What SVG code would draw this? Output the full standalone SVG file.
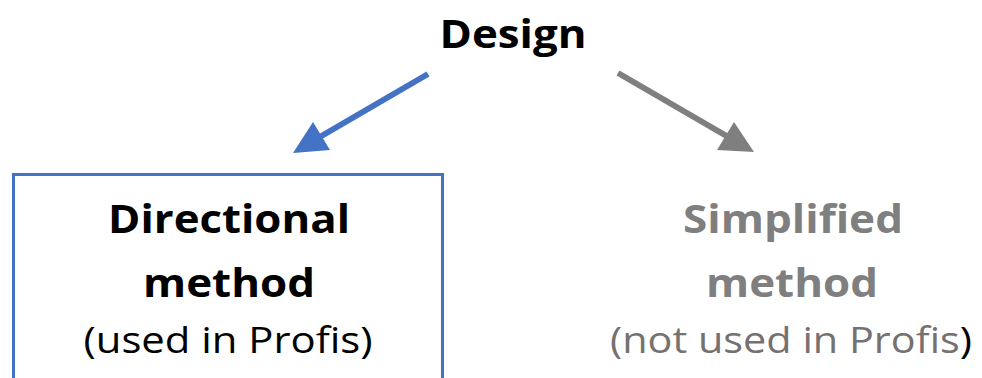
<svg xmlns="http://www.w3.org/2000/svg" width="982" height="378" viewBox="0 0 982 378">
<style>
text{font-family:"Open Sans","Noto Sans",sans-serif;text-anchor:middle}
.b{font-weight:bold;font-size:40px}
.r{font-size:37px}
.k{fill:#000}
.g{fill:#7F7F7F}
</style>
<rect width="982" height="378" fill="#fff"/>
<g id="connectors">
<line x1="428" y1="74" x2="318" y2="138" stroke="#4472C4" stroke-width="6"/>
<polygon points="293,153 313,122 330,150" fill="#4472C4"/>
<line x1="618" y1="73" x2="730" y2="138" stroke="#7F7F7F" stroke-width="6"/>
<polygon points="754,152 734,122 717,150" fill="#7F7F7F"/>
</g>
<g id="design">
<text class="b k" x="513" y="48" textLength="147" lengthAdjust="spacingAndGlyphs">Design</text>
</g>
<g id="directional">
<rect x="13.5" y="174.5" width="429" height="220" fill="none" stroke="#4472C4" stroke-width="3"/>
<text class="b k" x="229" y="233" textLength="242" lengthAdjust="spacingAndGlyphs">Directional</text>
<text class="b k" x="229" y="297" textLength="172" lengthAdjust="spacingAndGlyphs">method</text>
<text class="r k" x="228" y="353" textLength="289" lengthAdjust="spacingAndGlyphs">(used in Profis)</text>
</g>
<g id="simplified">
<text class="b g" x="793" y="233" textLength="220" lengthAdjust="spacingAndGlyphs">Simplified</text>
<text class="b g" x="792" y="297" textLength="172" lengthAdjust="spacingAndGlyphs">method</text>
<text class="r" x="791" y="353" textLength="362" lengthAdjust="spacingAndGlyphs"><tspan fill="#767171">(not used in Profis</tspan><tspan fill="#000">)</tspan></text>
</g>
</svg>
